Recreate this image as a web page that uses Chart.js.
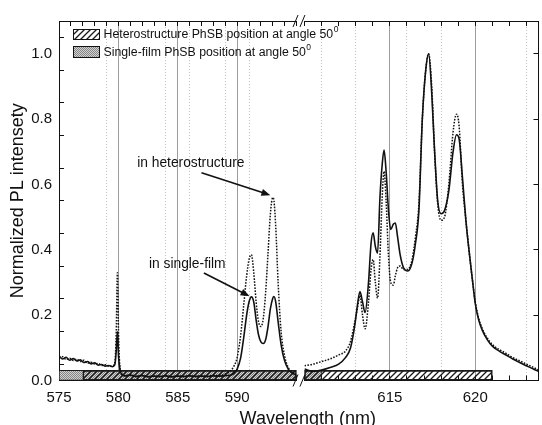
<!DOCTYPE html>
<html>
<head>
<meta charset="utf-8">
<script src="https://cdn.jsdelivr.net/npm/chart.js@4.4.1/dist/chart.umd.min.js"></script>
<style>
  html, body { margin: 0; padding: 0; background: #fff; overflow: hidden; }
  #caixa { width: 552px; height: 425px; }
</style>
</head>
<body>
<div id="caixa"><canvas id="graficoPL" width="552" height="425"></canvas></div>
<script>
// painel esquerdo (575-595 nm)
const leftNm = [
  575.0, 575.3, 575.6, 575.9, 576.2, 576.5, 576.8, 577.1, 577.4, 577.7,
  578.0, 578.3, 578.6, 578.9, 579.2, 579.5, 579.7, 579.82, 579.92, 580.02,
  580.15, 580.3, 580.6, 581.0, 581.5, 582.0, 582.5, 583.0, 583.5, 584.0,
  584.5, 585.0, 585.5, 586.0, 586.5, 587.0, 587.5, 588.0, 588.5, 589.0,
  589.4, 589.7, 590.0, 590.3, 590.55, 590.8, 591.0, 591.2, 591.4, 591.6,
  591.8, 592.0, 592.2, 592.4, 592.6, 592.8, 593.0, 593.1, 593.25, 593.45,
  593.7, 594.0, 594.3, 594.6, 595.0
];
const leftSingle = [
  0.075, 0.066, 0.071, 0.062, 0.067, 0.060, 0.063, 0.055, 0.058, 0.051,
  0.054, 0.047, 0.049, 0.044, 0.046, 0.042, 0.048, 0.09, 0.15, 0.07,
  0.03, 0.018, 0.014, 0.016, 0.012, 0.015, 0.011, 0.013, 0.012, 0.014,
  0.011, 0.013, 0.012, 0.014, 0.012, 0.013, 0.012, 0.014, 0.013, 0.015,
  0.016, 0.02, 0.035, 0.07, 0.13, 0.2, 0.24, 0.256, 0.24, 0.185,
  0.14, 0.118, 0.113, 0.125, 0.165, 0.22, 0.252, 0.257, 0.24, 0.18,
  0.11, 0.06, 0.035, 0.024, 0.016
];
const leftHetero = [
  0.07, 0.073, 0.064, 0.068, 0.061, 0.065, 0.058, 0.062, 0.053, 0.056,
  0.05, 0.052, 0.046, 0.048, 0.043, 0.045, 0.055, 0.15, 0.33, 0.13,
  0.035, 0.02, 0.015, 0.018, 0.013, 0.016, 0.012, 0.014, 0.013, 0.015,
  0.012, 0.014, 0.013, 0.015, 0.013, 0.014, 0.013, 0.016, 0.015, 0.02,
  0.028, 0.042, 0.07, 0.14, 0.23, 0.32, 0.37, 0.385, 0.33, 0.24,
  0.18, 0.165, 0.19, 0.27, 0.39, 0.51, 0.56, 0.55, 0.47, 0.3,
  0.15, 0.075, 0.04, 0.025, 0.017
];

// painel direito (610-624 nm)
const rightNm = [
  610.0, 610.5, 611.0, 611.5, 612.0, 612.4, 612.7, 612.95, 613.1, 613.25,
  613.4, 613.55, 613.75, 613.9, 614.02, 614.15, 614.28, 614.42, 614.55, 614.66,
  614.78, 614.92, 615.05, 615.2, 615.32, 615.45, 615.6, 615.8, 616.05, 616.3,
  616.5, 616.7, 616.9, 617.1, 617.27, 617.45, 617.6, 617.8, 618.0, 618.2,
  618.45, 618.7, 618.9, 619.05, 619.25, 619.45, 619.65, 619.85, 620.0, 620.2,
  620.4, 620.7, 621.0, 621.4, 621.8, 622.2, 622.6, 623.0, 623.4, 623.7
];
const rightSingle = [
  0.035, 0.028, 0.032, 0.04, 0.05, 0.07, 0.1, 0.17, 0.23, 0.272,
  0.24, 0.208, 0.3, 0.42, 0.452, 0.41, 0.39, 0.56, 0.66, 0.705,
  0.64, 0.52, 0.462, 0.478, 0.482, 0.44, 0.385, 0.345, 0.335, 0.36,
  0.42, 0.52, 0.8, 0.95, 1.0, 0.88, 0.72, 0.55, 0.51, 0.52,
  0.58, 0.7, 0.752, 0.74, 0.62, 0.49, 0.39, 0.3, 0.235, 0.185,
  0.155, 0.125, 0.105, 0.09, 0.078, 0.066, 0.055, 0.045, 0.035, 0.028
];
const rightHetero = [
  0.045, 0.05, 0.058, 0.066, 0.078, 0.09, 0.12, 0.18, 0.22, 0.26,
  0.2, 0.158, 0.24, 0.34, 0.37, 0.3, 0.252, 0.38, 0.56, 0.64,
  0.55, 0.38, 0.3, 0.292, 0.32, 0.345, 0.35, 0.34, 0.34, 0.37,
  0.44, 0.54, 0.8, 0.95, 1.0, 0.9, 0.72, 0.54, 0.49, 0.5,
  0.6, 0.76, 0.815, 0.78, 0.6, 0.49, 0.39, 0.3, 0.24, 0.19,
  0.16, 0.13, 0.11, 0.095, 0.083, 0.07, 0.06, 0.05, 0.04, 0.032
];

const leftLabeledTicks = [575, 580, 585, 590];
const rightLabeledTicks = [615, 620];
const gridSolid = [580, 585, 590, 615, 620];
const gridDotted = [579, 584, 586, 589, 591, 611, 613, 616, 618, 623];

// faixas de posição PhSB (nm)
const heteroBandLeft = [577, 595];
const heteroBandRight = [610, 621];
const singleBandLeft = [575, 595];
const singleBandRight = [610, 611];

const legendLabels = ['Heterostructure PhSB position at angle 50', 'Single-film PhSB position at angle 50'];
const FONTE = '"Liberation Sans", Arial, sans-serif';

function padraoHachura(fundo) {
  const c = document.createElement('canvas');
  c.width = 6; c.height = 6;
  const g = c.getContext('2d');
  if (fundo) { g.fillStyle = fundo; g.fillRect(0, 0, 6, 6); }
  g.strokeStyle = '#1a1a1a';
  g.lineWidth = 1.3;
  g.beginPath();
  g.moveTo(0, 6); g.lineTo(6, 0);
  g.moveTo(-3, 3); g.lineTo(3, -3);
  g.moveTo(3, 9); g.lineTo(9, 3);
  g.stroke();
  return g.createPattern(c, 'repeat');
}

function padraoPontos() {
  const c = document.createElement('canvas');
  c.width = 2; c.height = 2;
  const g = c.getContext('2d');
  g.fillStyle = '#d2d2d2'; g.fillRect(0, 0, 2, 2);
  g.fillStyle = '#858585'; g.fillRect(0, 0, 1, 1); g.fillRect(1, 1, 1, 1);
  return g.createPattern(c, 'repeat');
}

const hachura = padraoHachura(null);
const hachuraLegenda = padraoHachura('#ffffff');
const pontos = padraoPontos();

function corGrade(ctx) {
  if (!ctx.tick) return 'rgba(0,0,0,0)';
  const v = Math.round(ctx.tick.value * 100) / 100;
  if (gridSolid.includes(v)) return '#9c9c9c';
  if (gridDotted.includes(v)) return '#c2c2c2';
  return 'rgba(0,0,0,0)';
}
function tracoGrade(ctx) {
  if (ctx.tick && gridDotted.includes(Math.round(ctx.tick.value * 100) / 100)) return [1, 2];
  return [];
}

function eixoX(min, max, pos, stack, peso, ordem, rotulos) {
  const base = {
    type: 'linear', position: pos, min: min, max: max,
    stack: stack, stackWeight: peso, weight: ordem, offset: false,
    afterFit: (s) => { s.height = pos === 'bottom' ? 44.5 : 14.5; }
  };
  if (rotulos === null) {
    base.grid = { display: false };
    base.border = { display: false };
    base.ticks = { display: false };
    return base;
  }
  base.grid = {
    drawOnChartArea: pos === 'bottom',
    color: corGrade, lineWidth: 1,
    tickLength: -5, tickColor: '#111', tickWidth: 1, tickBorderDash: []
  };
  base.border = { display: true, color: '#111', width: 1, dash: tracoGrade };
  base.ticks = {
    display: pos === 'bottom',
    stepSize: 1, autoSkip: false, includeBounds: false, maxTicksLimit: 100,
    maxRotation: 0, minRotation: 0, padding: 13.5, color: '#111',
    font: { family: FONTE, size: 15 },
    callback: (v) => (rotulos || []).includes(v) ? String(v) : ''
  };
  return base;
}

const desenhos = {
  id: 'desenhos',
  afterDraw(chart) {
    const { ctx, chartArea: area, scales } = chart;
    const xL = scales.xL, xR = scales.xR, y = scales.y;
    ctx.save();
    ctx.fillStyle = '#111';
    ctx.strokeStyle = '#111';

    // títulos dos eixos
    ctx.font = '18px ' + FONTE;
    ctx.textAlign = 'center';
    ctx.textBaseline = 'alphabetic';
    ctx.fillText('Wavelength (nm)', (area.left + area.right) / 2 + 9, area.bottom + 43);
    ctx.save();
    ctx.translate(23, (area.top + area.bottom) / 2);
    ctx.rotate(-Math.PI / 2);
    ctx.fillText('Normalized PL intensety', 0, 0);
    ctx.restore();

    // legenda
    const caixas = [
      { y: 29, h: 10, fill: [hachuraLegenda] },
      { y: 46, h: 11, fill: [pontos] }
    ];
    caixas.forEach((c, i) => {
      const bx = area.left + 14;
      c.fill.forEach((f) => { ctx.fillStyle = f; ctx.fillRect(bx, c.y, 26, c.h); });
      ctx.lineWidth = 1;
      ctx.strokeStyle = '#111';
      ctx.strokeRect(bx + 0.5, c.y + 0.5, 26, c.h);
      ctx.fillStyle = '#111';
      ctx.font = '12.3px ' + FONTE;
      ctx.textAlign = 'left';
      ctx.textBaseline = 'middle';
      const ty = c.y + c.h / 2 + 1;
      ctx.fillText(legendLabels[i], 103.5, ty);
      const w = ctx.measureText(legendLabels[i]).width;
      ctx.font = '8.5px ' + FONTE;
      ctx.fillText('0', 103.5 + w + 0.5, ty - 5);
    });

    // anotações com setas
    const notas = [
      { texto: 'in heterostructure', tx: 586.1, ty: 0.666, de: [587.0, 0.636], ate: [592.8, 0.567] },
      { texto: 'in single-film', tx: 585.8, ty: 0.357, de: [587.2, 0.329], ate: [591.05, 0.258] }
    ];
    ctx.font = '13.8px ' + FONTE;
    ctx.textAlign = 'center';
    ctx.textBaseline = 'middle';
    notas.forEach((n) => {
      ctx.fillStyle = '#111';
      ctx.fillText(n.texto, xL.getPixelForValue(n.tx), y.getPixelForValue(n.ty));
      const x1 = xL.getPixelForValue(n.de[0]), y1 = y.getPixelForValue(n.de[1]);
      const x2 = xL.getPixelForValue(n.ate[0]), y2 = y.getPixelForValue(n.ate[1]);
      const ang = Math.atan2(y2 - y1, x2 - x1);
      ctx.lineWidth = 1.6;
      ctx.beginPath();
      ctx.moveTo(x1, y1);
      ctx.lineTo(x2 - 6 * Math.cos(ang), y2 - 6 * Math.sin(ang));
      ctx.stroke();
      ctx.beginPath();
      ctx.moveTo(x2, y2);
      ctx.lineTo(x2 - 9 * Math.cos(ang) + 3.5 * Math.sin(ang), y2 - 9 * Math.sin(ang) - 3.5 * Math.cos(ang));
      ctx.lineTo(x2 - 9 * Math.cos(ang) - 3.5 * Math.sin(ang), y2 - 9 * Math.sin(ang) + 3.5 * Math.cos(ang));
      ctx.closePath();
      ctx.fill();
    });

    // marcas de quebra do eixo
    ctx.lineWidth = 1;
    const cx = [xL.right - 1, xR.left - 2];
    [area.top, area.bottom].forEach((yy) => {
      cx.forEach((c) => {
        ctx.beginPath();
        ctx.moveTo(c - 2.5, yy + 6);
        ctx.lineTo(c + 2.5, yy - 6);
        ctx.stroke();
      });
    });
    ctx.restore();
  }
};

const pontosDe = (nm, vals) => nm.map((v, i) => ({ x: v, y: vals[i] }));
const estiloSolido = { borderColor: '#111', borderWidth: 1.6, pointRadius: 0, fill: false, cubicInterpolationMode: 'monotone' };
const estiloPontilhado = { borderColor: '#111', borderWidth: 1.5, borderDash: [1.6, 1.4], pointRadius: 0, fill: false, cubicInterpolationMode: 'monotone' };
const estiloFaixa = { type: 'bar', indexAxis: 'y', yAxisID: 'y', barThickness: 10, grouped: false, borderColor: '#1a1a1a', borderWidth: 1, borderSkipped: false };

const grafico = new Chart(document.getElementById('graficoPL'), {
  type: 'line',
  data: {
    datasets: [
      Object.assign({ label: 'single-film', data: pontosDe(leftNm, leftSingle), xAxisID: 'xL', yAxisID: 'y' }, estiloSolido),
      Object.assign({ label: 'heterostructure', data: pontosDe(leftNm, leftHetero), xAxisID: 'xL', yAxisID: 'y' }, estiloPontilhado),
      Object.assign({ label: 'single-film', data: pontosDe(rightNm, rightSingle), xAxisID: 'xR', yAxisID: 'y' }, estiloSolido),
      Object.assign({ label: 'heterostructure', data: pontosDe(rightNm, rightHetero), xAxisID: 'xR', yAxisID: 'y' }, estiloPontilhado),
      Object.assign({ label: legendLabels[0], data: [{ x: heteroBandLeft, y: 0.0155 }], xAxisID: 'xL', backgroundColor: hachura }, estiloFaixa),
      Object.assign({ label: legendLabels[0], data: [{ x: heteroBandRight, y: 0.0155 }], xAxisID: 'xR', backgroundColor: hachura }, estiloFaixa),
      Object.assign({ label: legendLabels[1], data: [{ x: singleBandLeft, y: 0.0155 }], xAxisID: 'xL', backgroundColor: pontos }, estiloFaixa),
      Object.assign({ label: legendLabels[1], data: [{ x: singleBandRight, y: 0.0155 }], xAxisID: 'xR', backgroundColor: pontos }, estiloFaixa)
    ]
  },
  options: {
    responsive: false,
    animation: false,
    devicePixelRatio: 1,
    layout: { padding: 0 },
    plugins: { legend: { display: false }, tooltip: { enabled: false } },
    scales: {
      xL: eixoX(575, 595, 'bottom', 'baixo', 240, 1, leftLabeledTicks),
      xG: eixoX(0, 1, 'bottom', 'baixo', 8, 2, null),
      xR: eixoX(610, 623.7, 'bottom', 'baixo', 236.5, 3, rightLabeledTicks),
      xLt: eixoX(575, 595, 'top', 'topo', 240, 3, []),
      xGt: eixoX(0, 1, 'top', 'topo', 8, 2, null),
      xRt: eixoX(610, 623.7, 'top', 'topo', 236.5, 1, []),
      y: {
        type: 'linear', position: 'left', min: 0, max: 1.1, offset: false,
        afterFit: (s) => { s.width = 59; },
        grid: { drawOnChartArea: false, tickLength: -5, tickColor: '#111', tickWidth: 1 },
        border: { display: true, color: '#111', width: 1 },
        ticks: {
          stepSize: 0.1, autoSkip: false, maxTicksLimit: 100, padding: 12, color: '#111',
          font: { family: FONTE, size: 15 },
          callback: (v) => { const t = Math.round(v * 10); return t % 2 === 0 ? (t / 10).toFixed(1) : ''; }
        }
      },
      yR: {
        type: 'linear', position: 'right', min: 0, max: 1.1,
        afterFit: (s) => { s.width = 8.5; },
        grid: { drawOnChartArea: false, tickLength: -5, tickColor: '#111', tickWidth: 1 },
        border: { display: true, color: '#111', width: 1 },
        ticks: { display: false, stepSize: 0.2, includeBounds: false }
      }
    }
  },
  plugins: [desenhos]
});
</script>
</body>
</html>
